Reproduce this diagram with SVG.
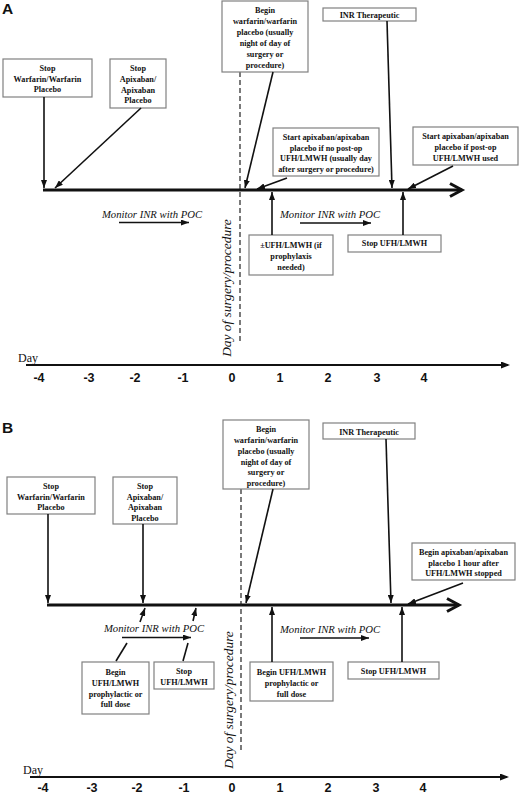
<svg xmlns="http://www.w3.org/2000/svg" width="520" height="794" viewBox="0 0 520 794">
<style>
.box rect{fill:#fff;stroke:#808080;stroke-width:1.2}
.box text{font-family:"Liberation Serif",serif;font-weight:bold;font-size:8.2px;fill:#111;text-anchor:middle}
.con{stroke:#111;stroke-width:1.6;fill:none}
.arr{marker-end:url(#ah)}
.mon{font-family:"Liberation Serif",serif;font-style:italic;font-size:10.7px;fill:#111;text-anchor:middle}
.surg{font-family:"Liberation Serif",serif;font-style:italic;font-size:13.4px;fill:#111;text-anchor:middle}
.tick{font-family:"Liberation Sans",sans-serif;font-size:12.5px;font-weight:bold;fill:#111;text-anchor:middle}
.day{font-family:"Liberation Serif",serif;font-size:12px;fill:#111}
.panel{font-family:"Liberation Sans",sans-serif;font-size:15.5px;font-weight:bold;fill:#111}
.tl{stroke:#111;stroke-width:3;fill:none}
.dash{stroke:#222;stroke-width:1.2;stroke-dasharray:5,3;fill:none}
.axis{stroke:#111;stroke-width:2.2;fill:none;marker-end:url(#ah2)}
</style>
<defs>
<marker id="ah" markerUnits="userSpaceOnUse" markerWidth="8" markerHeight="6" refX="8" refY="3" orient="auto">
<path d="M0,0 L8,3 L0,6 z" fill="#111"/>
</marker>
<marker id="ah2" markerUnits="userSpaceOnUse" markerWidth="9" markerHeight="7" refX="7" refY="3.5" orient="auto">
<path d="M0,0 L9,3.5 L0,7 z" fill="#111"/>
</marker>
</defs>
<rect width="520" height="794" fill="#fff"/>

<!-- Panel A -->
<text class="panel" x="2" y="14">A</text>
<g id="a-timeline">
<line class="tl" x1="43" y1="190" x2="462" y2="190"/>
<polyline class="tl" points="450,183.5 462,190 450,196.5"/>
</g>
<line id="a-surgery-line" class="dash" x1="240" y1="72" x2="240" y2="342"/>
<text class="surg" transform="translate(231,288) rotate(-90)">Day of surgery/procedure</text>

<g id="a-stop-warfarin" class="box"><rect x="3" y="59" width="89" height="38"/>
<text x="47.5" y="71">Stop</text><text x="47.5" y="82">Warfarin/Warfarin</text><text x="47.5" y="92">Placebo</text></g>
<g id="a-stop-apixaban" class="box"><rect x="110" y="59" width="56" height="49"/>
<text x="138" y="71">Stop</text><text x="138" y="82">Apixaban/</text><text x="138" y="93">Apixaban</text><text x="138" y="103">Placebo</text></g>
<g id="a-begin-warfarin" class="box"><rect x="222" y="1" width="86" height="71"/>
<text x="265" y="13">Begin</text><text x="265" y="24">warfarin/warfarin</text><text x="265" y="35">placebo (usually</text><text x="265" y="46">night of day of</text><text x="265" y="57">surgery or</text><text x="265" y="68">procedure)</text></g>
<g id="a-inr" class="box"><rect x="323" y="8" width="93" height="13"/>
<text x="369.5" y="17.5">INR Therapeutic</text></g>
<g id="a-start-apix-no" class="box"><rect x="273" y="128" width="106" height="48"/>
<text x="326" y="140">Start apixaban/apixaban</text><text x="326" y="150.5">placebo if no post-op</text><text x="326" y="161">UFH/LMWH (usually day</text><text x="326" y="171.5">after surgery or procedure)</text></g>
<g id="a-start-apix-post" class="box"><rect x="413" y="127" width="105" height="38"/>
<text x="465.5" y="139">Start apixaban/apixaban</text><text x="465.5" y="150">placebo if post-op</text><text x="465.5" y="160.5">UFH/LMWH used</text></g>
<g id="a-ufh" class="box"><rect x="249" y="235" width="84" height="40"/>
<text x="291" y="248">±UFH/LMWH (if</text><text x="291" y="259">prophylaxis</text><text x="291" y="270">needed)</text></g>
<g id="a-stop-ufh" class="box"><rect x="348" y="235" width="93" height="17"/>
<text x="394.5" y="246">Stop UFH/LMWH</text></g>

<g id="a-monitor-1"><text class="mon" x="152" y="218">Monitor INR with POC</text>
<line class="con arr" x1="119" y1="222.5" x2="189" y2="222.5" style="stroke-width:1.3"/></g>
<g id="a-monitor-2"><text class="mon" x="330" y="218">Monitor INR with POC</text>
<line class="con arr" x1="300" y1="223" x2="371" y2="223" style="stroke-width:1.3"/></g>

<g id="a-connectors">
<line class="con arr" x1="44" y1="97" x2="44" y2="188"/>
<line class="con arr" x1="141" y1="108" x2="55" y2="188"/>
<line class="con arr" x1="273" y1="72" x2="245" y2="188"/>
<line class="con arr" x1="387" y1="21" x2="392" y2="188"/>
<line class="con arr" x1="287" y1="178" x2="257" y2="189"/>
<line class="con arr" x1="453" y1="166" x2="408" y2="189"/>
<line class="con arr" x1="272" y1="235" x2="272" y2="192"/>
<line class="con arr" x1="403" y1="235" x2="403" y2="192"/>
</g>

<g id="a-day-axis">
<text class="day" x="18" y="362">Day</text>
<line class="axis" x1="26" y1="365" x2="508" y2="365"/>
<text class="tick" x="39" y="381.5">-4</text><text class="tick" x="89" y="381.5">-3</text><text class="tick" x="135" y="381.5">-2</text><text class="tick" x="183" y="381.5">-1</text><text class="tick" x="232" y="381.5">0</text><text class="tick" x="280" y="381.5">1</text><text class="tick" x="328" y="381.5">2</text><text class="tick" x="377" y="381.5">3</text><text class="tick" x="424" y="381.5">4</text>
</g>

<!-- Panel B -->
<text class="panel" x="2" y="433">B</text>
<g id="b-timeline">
<line class="tl" x1="47" y1="605" x2="459" y2="605"/>
<polyline class="tl" points="447,598.5 459,605 447,611.5"/>
</g>
<line id="b-surgery-line" class="dash" x1="241" y1="489" x2="241" y2="753"/>
<text class="surg" transform="translate(233,700) rotate(-90)">Day of surgery/procedure</text>

<g id="b-stop-warfarin" class="box"><rect x="7" y="477" width="88" height="37"/>
<text x="51" y="489">Stop</text><text x="51" y="500">Warfarin/Warfarin</text><text x="51" y="510">Placebo</text></g>
<g id="b-stop-apixaban" class="box"><rect x="113" y="477" width="64" height="47"/>
<text x="145" y="489">Stop</text><text x="145" y="500">Apixaban/</text><text x="145" y="510">Apixaban</text><text x="145" y="520.5">Placebo</text></g>
<g id="b-begin-warfarin" class="box"><rect x="223" y="420" width="86" height="69"/>
<text x="266" y="432">Begin</text><text x="266" y="443">warfarin/warfarin</text><text x="266" y="454">placebo (usually</text><text x="266" y="464.5">night of day of</text><text x="266" y="475">surgery or</text><text x="266" y="485.5">procedure)</text></g>
<g id="b-inr" class="box"><rect x="323" y="423" width="92" height="16"/>
<text x="369" y="434.5">INR Therapeutic</text></g>
<g id="b-begin-apix" class="box"><rect x="412" y="543" width="103" height="37"/>
<text x="463.5" y="555">Begin apixaban/apixaban</text><text x="463.5" y="566">placebo 1 hour after</text><text x="463.5" y="576">UFH/LMWH stopped</text></g>
<g id="b-begin-ufh-left" class="box"><rect x="82" y="662" width="67" height="52"/>
<text x="115.5" y="675">Begin</text><text x="115.5" y="686">UFH/LMWH</text><text x="115.5" y="696.5">prophylactic or</text><text x="115.5" y="707">full dose</text></g>
<g id="b-stop-ufh-left" class="box"><rect x="154" y="662" width="60" height="27"/>
<text x="184" y="674">Stop</text><text x="184" y="684.5">UFH/LMWH</text></g>
<g id="b-begin-ufh-right" class="box"><rect x="250" y="662" width="83" height="39"/>
<text x="291.5" y="675">Begin UFH/LMWH</text><text x="291.5" y="686">prophylactic or</text><text x="291.5" y="696.5">full dose</text></g>
<g id="b-stop-ufh-right" class="box"><rect x="348" y="662" width="91" height="17"/>
<text x="393.5" y="673.5">Stop UFH/LMWH</text></g>

<g id="b-monitor-1"><text class="mon" x="154" y="632">Monitor INR with POC</text>
<line class="con arr" x1="122" y1="637.5" x2="191" y2="637.5" style="stroke-width:1.3"/></g>
<g id="b-monitor-2"><text class="mon" x="330" y="633">Monitor INR with POC</text>
<line class="con arr" x1="300" y1="638" x2="369" y2="638" style="stroke-width:1.3"/></g>

<g id="b-connectors">
<line class="con arr" x1="48" y1="514" x2="48" y2="603"/>
<line class="con arr" x1="143" y1="524" x2="143" y2="603"/>
<line class="con arr" x1="273" y1="489" x2="246" y2="603"/>
<line class="con arr" x1="386" y1="439" x2="391" y2="603"/>
<line class="con arr" x1="463" y1="583" x2="408" y2="604"/>
<line class="con arr" x1="272" y1="662" x2="272" y2="607"/>
<line class="con arr" x1="402" y1="662" x2="402" y2="607"/>
<line class="con" x1="116" y1="661" x2="127" y2="643"/>
<line class="con arr" x1="140" y1="622" x2="145" y2="608"/>
<line class="con" x1="183" y1="661" x2="188" y2="643"/>
<line class="con arr" x1="193" y1="621" x2="196" y2="608"/>
</g>

<g id="b-day-axis">
<text class="day" x="23" y="774">Day</text>
<line class="axis" x1="30" y1="777" x2="507" y2="777"/>
<text class="tick" x="43" y="791.5">-4</text><text class="tick" x="92" y="791.5">-3</text><text class="tick" x="137" y="791.5">-2</text><text class="tick" x="184" y="791.5">-1</text><text class="tick" x="232" y="791.5">0</text><text class="tick" x="280" y="791.5">1</text><text class="tick" x="328" y="791.5">2</text><text class="tick" x="376" y="791.5">3</text><text class="tick" x="423" y="791.5">4</text>
</g>
</svg>
